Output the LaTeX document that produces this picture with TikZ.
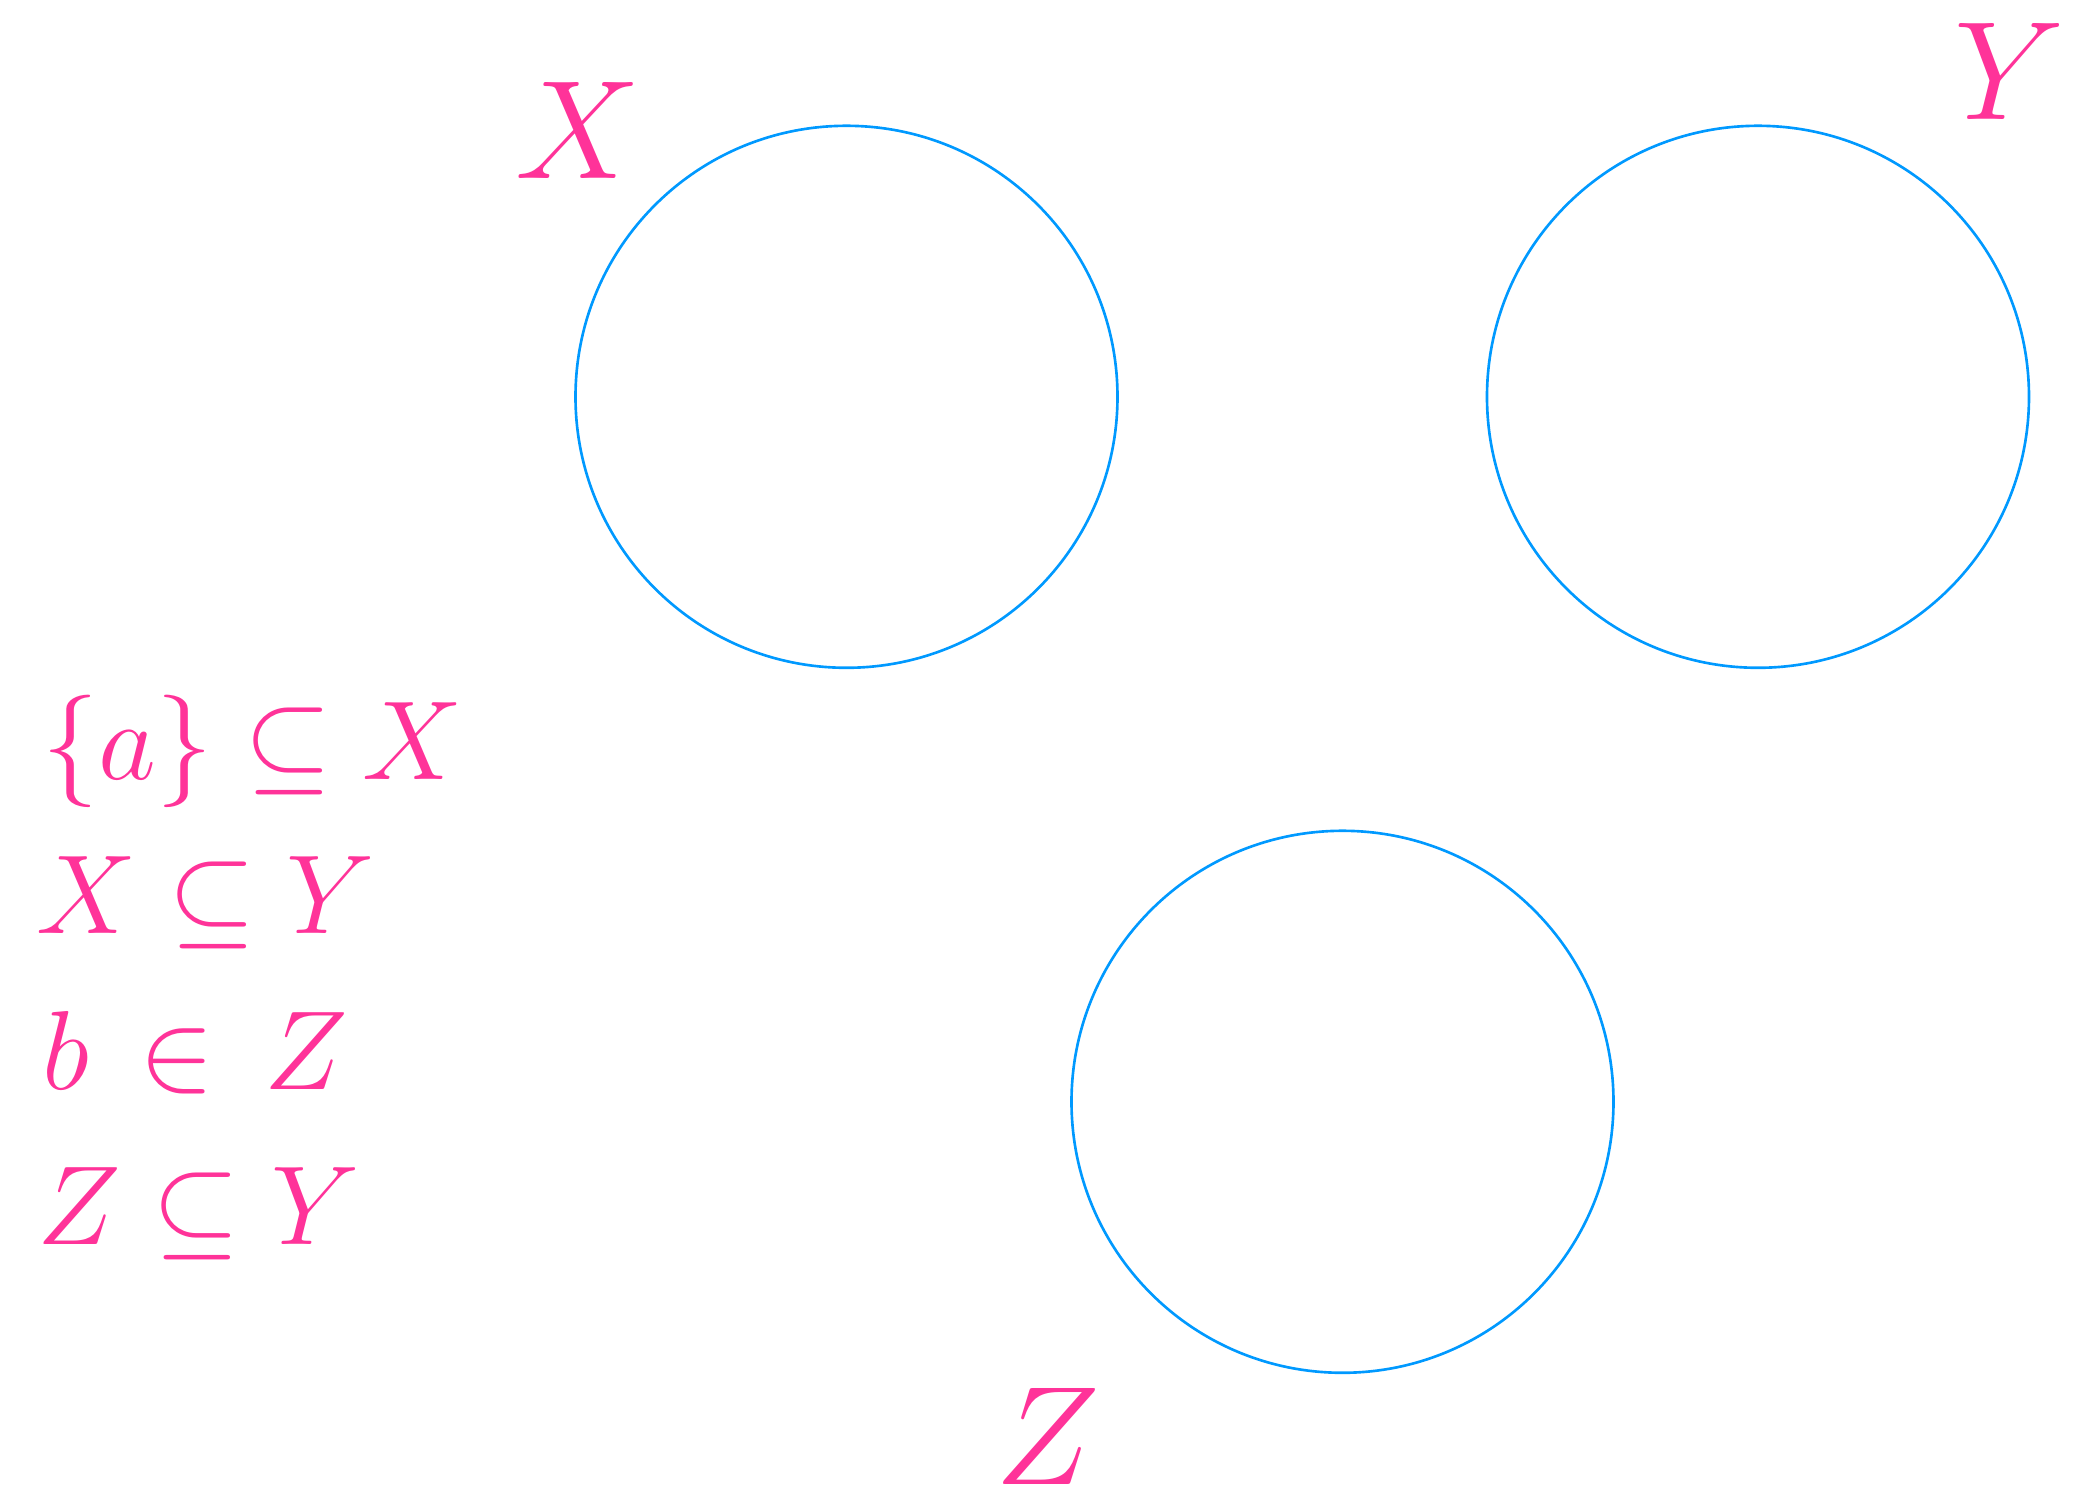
\RequirePackage{fix-cm}
\documentclass[tikz,border=0pt]{standalone}
\usepackage{tikz}
\usetikzlibrary{positioning}
\definecolor{Pink}{HTML}{FF3399}
\definecolor{Sky}{HTML}{0099FF}

\begin{document}
\begin{tikzpicture}[
set/.style={draw=Sky,line width=.75pt,circle,minimum size=5.42cm,inner sep=0pt},
setname/.style={text=Pink,inner sep=0pt,font=\fontsize{40}{48}\selectfont},
fact/.style={text=Pink,inner sep=0pt,anchor=base west,font=\fontsize{32}{40}\selectfont}]
\useasboundingbox (0,0) rectangle (20.74,-14.99);
\node[set](setX) at (8.465,-3.968){};
\node[set](setY) at (17.58,-3.968){};
\node[set](setZ) at (13.425,-11.018){};
\node[setname](nameX) at (5.78,-1.30){$X$};
\node[setname](nameY) at (20.10,-0.71){$Y$};
\node[setname](nameZ) at (10.48,-14.36){$Z$};
\node[fact](factA) at (0.42,-7.80){$\{a\}\subseteq X$};
\node[fact](factB) at (0.36,-9.34){$X\subseteq Y$};
\node[fact](factC) at (0.42,-10.90){$b\,\in\,Z$};
\node[fact](factD) at (0.37,-12.45){$Z\subseteq Y$};
\end{tikzpicture}
\end{document}
